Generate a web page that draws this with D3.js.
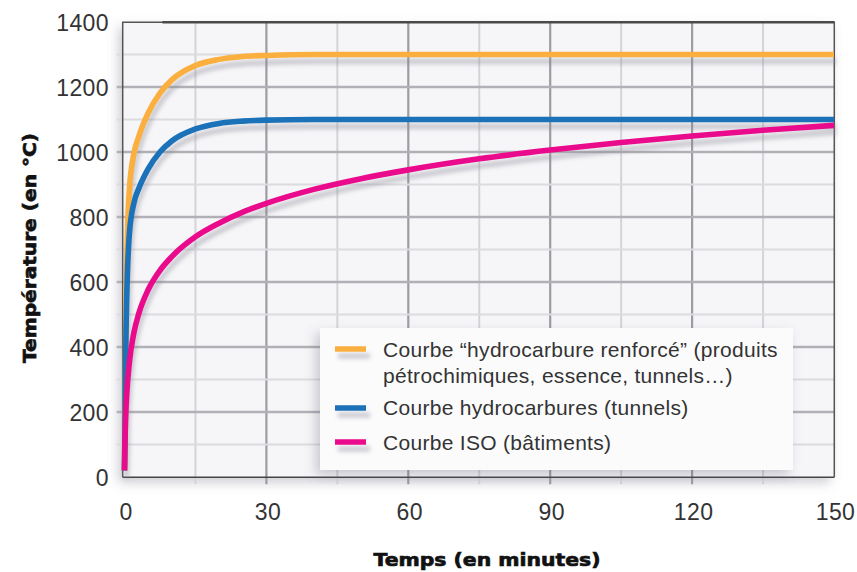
<!DOCTYPE html>
<html><head><meta charset="utf-8">
<script src="https://cdn.jsdelivr.net/npm/d3@7"></script>
<style>
html,body{margin:0;padding:0;background:#fff;}
svg{display:block;}
</style></head>
<body>
<svg id="chart" width="857" height="572"></svg>
<script>
// ---- data ----
const times = [0, 0.1, 0.25, 0.5, 1, 2, 3, 5, 7.5, 10, 15, 20, 25, 30, 40, 50, 60, 75, 90, 105, 120, 135, 150];
const hcmValues = [20, 150, 439, 670, 877, 996, 1047, 1120, 1181, 1222, 1266, 1285, 1294, 1297, 1300, 1300, 1300, 1300, 1300, 1300, 1300, 1300, 1300];
const hcValues  = [20, 130, 373, 568, 743, 844, 887, 948, 1000, 1034, 1071, 1088, 1095, 1098, 1100, 1100, 1100, 1100, 1100, 1100, 1100, 1100, 1100];
const isoValues = [20, 108, 185, 261, 349, 445, 502, 576, 636, 678, 739, 781, 815, 842, 885, 918, 945, 979, 1006, 1029, 1049, 1067, 1082];
const seriesNames = [
  ["Courbe \u201chydrocarbure renforcé\u201d (produits", "pétrochimiques, essence, tunnels\u2026)"],
  ["Courbe hydrocarbures (tunnels)"],
  ["Courbe ISO (bâtiments)"]
];
const seriesColors = ["#FBAF3F", "#1B72B9", "#EA0A8C"];
const xTicks = [0, 30, 60, 90, 120, 150];
const yTicks = [0, 200, 400, 600, 800, 1000, 1200, 1400];
const xGrid = d3.range(0, 151, 15);
const yGrid = d3.range(0, 1401, 100);
const xTitle = "Temps (en minutes)";
const yTitle = "Température (en °C)";

const series = [hcmValues, hcValues, isoValues].map((vals, i) => ({
  name: seriesNames[i], color: seriesColors[i],
  points: times.map((t, j) => ({t, v: vals[j]}))
}));

const svg = d3.select("#chart");
const x = d3.scaleLinear().domain([0, 150]).range([124.5, 834]);
const y = d3.scaleLinear().domain([0, 1400]).range([477, 22]);
const pLeft = 122.7, pRight = 834.3, pTop = 22.3, pBottom = 477.3;

const defs = svg.append("defs");
const sh = defs.append("filter").attr("id", "plotShadow").attr("x", "-10%").attr("y", "-10%").attr("width", "120%").attr("height", "120%");
sh.append("feDropShadow").attr("dx", -4).attr("dy", 5).attr("stdDeviation", 6).attr("flood-color", "#6a6a80").attr("flood-opacity", 0.35);
const lsh = defs.append("filter").attr("id", "lineShadow").attr("x", "-10%").attr("y", "-20%").attr("width", "120%").attr("height", "140%");
lsh.append("feGaussianBlur").attr("stdDeviation", 2.2);
const gblur = defs.append("filter").attr("id", "gridBlur").attr("x", "-5%").attr("y", "-5%").attr("width", "110%").attr("height", "110%");
gblur.append("feGaussianBlur").attr("stdDeviation", 0.6);

// plot background
svg.append("rect").attr("x", pLeft).attr("y", pTop).attr("width", pRight - pLeft).attr("height", pBottom - pTop)
  .attr("fill", "#f6f6f8").attr("filter", "url(#plotShadow)");

// grid
const grid = svg.append("g").attr("filter", "url(#gridBlur)");
grid.selectAll(".vg").data(xGrid.filter(d => d > 0 && d < 150)).join("line")
  .attr("x1", d => x(d)).attr("x2", d => x(d)).attr("y1", pTop).attr("y2", pBottom + 7)
  .attr("stroke", d => d % 30 === 0 ? "#9c9ca2" : "#d4d4d8")
  .attr("stroke-width", d => d % 30 === 0 ? 2.2 : 2);
grid.selectAll(".hg").data(yGrid.filter(d => d > 0 && d < 1400)).join("line")
  .attr("x1", pLeft - 6).attr("x2", pRight).attr("y1", d => y(d)).attr("y2", d => y(d))
  .attr("stroke", d => d % 200 === 0 ? "#b0b0b6" : "#dcdce0")
  .attr("stroke-width", d => d % 200 === 0 ? 2.3 : 2);

// frame
svg.append("path")
  .attr("d", `M${pLeft},${pBottom}L${pLeft},${pTop}L${pRight},${pTop}L${pRight},${pBottom}`)
  .attr("fill", "none").attr("stroke", "#555").attr("stroke-width", 1.5);
svg.append("line").attr("x1", pLeft).attr("x2", pRight).attr("y1", pBottom).attr("y2", pBottom)
  .attr("stroke", "#444").attr("stroke-width", 1.6);
svg.append("line").attr("x1", x(8)).attr("x2", pRight).attr("y1", pTop).attr("y2", pTop)
  .attr("stroke", "#4a4a4a").attr("stroke-width", 2.4);

// lines
const line = d3.line().x(d => x(d.t)).y(d => y(d.v)).curve(d3.curveMonotoneX);
const shadows = svg.append("g").attr("filter", "url(#lineShadow)").attr("opacity", 0.45);
shadows.selectAll("path").data(series).join("path")
  .attr("d", d => line(d.points)).attr("transform", "translate(2,7)")
  .attr("fill", "none").attr("stroke", "#8a8a98").attr("stroke-width", 5);
svg.append("g").selectAll("path").data(series).join("path")
  .attr("d", d => line(d.points))
  .attr("fill", "none").attr("stroke", d => d.color).attr("stroke-width", 5.6);

// axes tick labels
const fontTick = "'Liberation Sans', Arial, sans-serif";
svg.append("g").selectAll("text").data(yTicks).join("text")
  .attr("x", 109).attr("y", d => y(d) + 8.5).attr("text-anchor", "end")
  .attr("font-family", fontTick).attr("font-size", 23).attr("letter-spacing", 0.4).attr("fill", "#333")
  .text(d => d);
svg.append("g").selectAll("text").data(xTicks).join("text")
  .attr("x", d => x(d) + 1.5).attr("y", 519.5).attr("text-anchor", "middle")
  .attr("font-family", fontTick).attr("font-size", 23).attr("letter-spacing", 0.4).attr("fill", "#333")
  .text(d => d);

// axis titles
svg.append("text").attr("x", 487).attr("y", 566).attr("text-anchor", "middle")
  .attr("font-family", "'DejaVu Sans', sans-serif").attr("font-weight", "bold").attr("font-size", 18.5)
  .attr("textLength", 227).attr("lengthAdjust", "spacingAndGlyphs")
  .attr("fill", "#111").attr("stroke", "#111").attr("stroke-width", 0.7).text(xTitle);
svg.append("text").attr("transform", "translate(36,248) rotate(-90)").attr("text-anchor", "middle")
  .attr("font-family", "'DejaVu Sans', sans-serif").attr("font-weight", "bold").attr("font-size", 18.5)
  .attr("textLength", 230).attr("lengthAdjust", "spacingAndGlyphs")
  .attr("fill", "#111").attr("stroke", "#111").attr("stroke-width", 0.7).text(yTitle);

// legend
const lg = svg.append("g");
lg.append("rect").attr("x", 320).attr("y", 328).attr("width", 473).attr("height", 142)
  .attr("fill", "#fbfbfc").attr("filter", "url(#plotShadow)");
const rowY = [349, 408, 442];
const textY = [[356.5, 383], [415], [449.5]];
const lshadow = lg.append("g").attr("filter", "url(#lineShadow)").attr("opacity", 0.45);
series.forEach((s, i) => {
  lshadow.append("line").attr("x1", 338).attr("x2", 370).attr("y1", rowY[i] + 7).attr("y2", rowY[i] + 7)
    .attr("stroke", "#8a8a98").attr("stroke-width", 5);
  lg.append("line").attr("x1", 335).attr("x2", 366).attr("y1", rowY[i]).attr("y2", rowY[i])
    .attr("stroke", s.color).attr("stroke-width", 5.5);
  s.name.forEach((t, k) => {
    lg.append("text").attr("x", 383).attr("y", textY[i][k])
      .attr("font-family", fontTick).attr("font-size", 21).attr("letter-spacing", 0.3).attr("fill", "#333").text(t);
  });
});
</script>
</body></html>
